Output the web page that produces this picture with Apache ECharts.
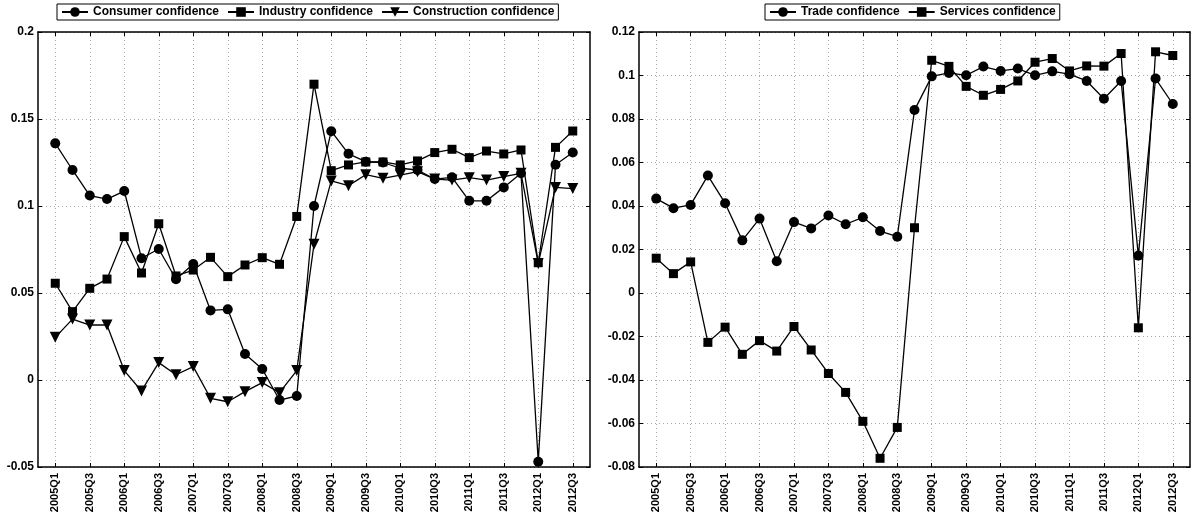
<!DOCTYPE html>
<html><head><meta charset="utf-8">
<script src="https://cdn.jsdelivr.net/npm/echarts@6/dist/echarts.min.js"></script>
<style>html,body{margin:0;padding:0;background:#fff}#c{width:1194px;height:522px}</style>
</head><body><div id="c"></div>
<script>
const quarters = ['2005Q1','2005Q2','2005Q3','2005Q4','2006Q1','2006Q2','2006Q3','2006Q4','2007Q1','2007Q2','2007Q3','2007Q4','2008Q1','2008Q2','2008Q3','2008Q4','2009Q1','2009Q2','2009Q3','2009Q4','2010Q1','2010Q2','2010Q3','2010Q4','2011Q1','2011Q2','2011Q3','2011Q4','2012Q1','2012Q2','2012Q3'];
const consumer = [0.136,0.1207,0.106,0.104,0.1086,0.070,0.0753,0.0579,0.0667,0.040,0.0406,0.0149,0.0063,-0.0115,-0.0092,0.100,0.143,0.130,0.1255,0.125,0.1217,0.1207,0.1155,0.1165,0.103,0.103,0.1107,0.1188,-0.047,0.1237,0.1307];
const industry = [0.0556,0.0393,0.0527,0.058,0.0824,0.0615,0.0898,0.0598,0.0632,0.0705,0.0594,0.0661,0.0703,0.0665,0.094,0.170,0.1203,0.1236,0.1253,0.1253,0.1236,0.1259,0.1307,0.1326,0.1278,0.1316,0.1299,0.1322,0.0674,0.1337,0.1431];
const construction = [0.0245,0.035,0.0316,0.0316,0.0054,-0.0063,0.010,0.003,0.0077,-0.0105,-0.0125,-0.0067,-0.0015,-0.0073,0.0054,0.078,0.1144,0.1117,0.118,0.1159,0.1178,0.1197,0.1155,0.1149,0.1163,0.1149,0.1169,0.1188,0.067,0.1107,0.110];
const trade = [0.0434,0.039,0.0405,0.054,0.0413,0.0242,0.0342,0.0146,0.0326,0.0297,0.0356,0.0316,0.0348,0.0285,0.0259,0.0841,0.0996,0.1012,0.1001,0.1041,0.1021,0.1032,0.1001,0.1019,0.1006,0.0975,0.0893,0.0975,0.0172,0.0986,0.0869];
const services = [0.016,0.0089,0.0143,-0.0227,-0.0157,-0.0282,-0.0219,-0.0267,-0.0154,-0.0262,-0.037,-0.0457,-0.059,-0.076,-0.0618,0.030,0.107,0.1042,0.095,0.0909,0.0936,0.0975,0.1061,0.1078,0.1021,0.1044,0.1043,0.1101,-0.016,0.1109,0.1092];
const leftY = {min:-0.05, max:0.2, interval:0.05};
const rightY = {min:-0.08, max:0.12, interval:0.02};

const cats = [''].concat(quarters, ['']);
const show = (i) => i % 2 === 1;
const FONT = 'Liberation Sans';
const downTri = 'path://M0,0 L10,0 L5,9 Z';

function xAxes(gi){
  const base = {
    type:'category', data:cats, boundaryGap:false, gridIndex:gi,
    axisLine:{show:true, onZero:false, lineStyle:{color:'#000', width:1.5}},
    axisTick:{show:true, inside:true, length:4, interval:show, lineStyle:{color:'#000'}},
  };
  return [
    Object.assign({}, base, {position:'bottom',
      axisLabel:{interval:show, rotate:90, color:'#000', fontFamily:FONT, fontWeight:'bold', fontSize:11, margin:6},
      splitLine:{show:true, interval:show, lineStyle:{color:'#aaa', type:[1,3], width:1}}}),
    Object.assign({}, base, {position:'top', axisLabel:{show:false}, splitLine:{show:false}})
  ];
}
function yAxes(gi, r){
  const base = {type:'value', gridIndex:gi, min:r.min, max:r.max, interval:r.interval,
    axisLine:{show:true, lineStyle:{color:'#000', width:1.5}},
    axisTick:{show:true, inside:true, length:4, lineStyle:{color:'#000'}}};
  return [
    Object.assign({}, base, {position:'left',
      axisLabel:{color:'#000', fontFamily:FONT, fontWeight:'bold', fontSize:12, margin:4},
      splitLine:{show:true, lineStyle:{color:'#aaa', type:[1,3], width:1}}}),
    Object.assign({}, base, {position:'right', axisLabel:{show:false}, splitLine:{show:false}})
  ];
}
function ser(name, vals, sym, size, xi, yi){
  return {name, type:'line', xAxisIndex:xi, yAxisIndex:yi,
    data: vals.map((v,i)=>[i+1, v]),
    symbol:sym, symbolSize:size, showAllSymbol:true,
    lineStyle:{color:'#000', width:1.3}, itemStyle:{color:'#000'}, emphasis:{disabled:true}, animation:false};
}
const legendBase = {top:4, orient:'horizontal', borderColor:'#000', borderWidth:1, padding:[2,4,2,4],
  itemGap:8, itemWidth:26, itemHeight:12, textStyle:{color:'#000', fontFamily:FONT, fontWeight:'bold', fontSize:12}, selectedMode:false};

const option = {
  animation:false,
  grid:[{left:38, right:604, top:32, bottom:55}, {left:639, right:4, top:32, bottom:55}],
  legend:[
    Object.assign({}, legendBase, {left:57, data:['Consumer confidence','Industry confidence','Construction confidence']}),
    Object.assign({}, legendBase, {left:765, data:['Trade confidence','Services confidence']})
  ],
  xAxis: xAxes(0).concat(xAxes(1)),
  yAxis: yAxes(0, leftY).concat(yAxes(1, rightY)),
  series:[
    ser('Consumer confidence', consumer, 'circle', 10, 0, 0),
    ser('Industry confidence', industry, 'rect', 9, 0, 0),
    ser('Construction confidence', construction, downTri, 11, 0, 0),
    ser('Trade confidence', trade, 'circle', 10, 2, 2),
    ser('Services confidence', services, 'rect', 9, 2, 2)
  ]
};
echarts.init(document.getElementById('c'), null, {renderer:'canvas'}).setOption(option);
</script></body></html>
